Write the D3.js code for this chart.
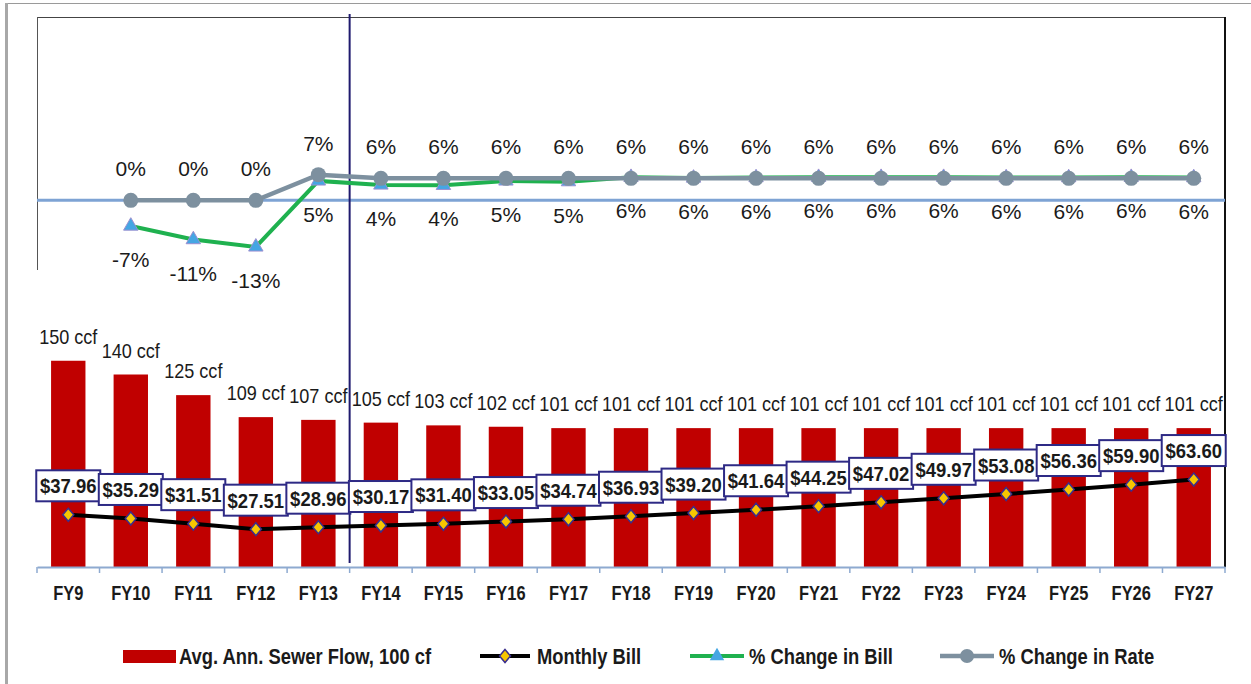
<!DOCTYPE html>
<html>
<head>
<meta charset="utf-8">
<script src="https://cdn.jsdelivr.net/npm/d3@7"></script>
<style>
    body { margin: 0; background: #fff; }
    svg text { font-family: "Liberation Sans Narrow", "Arial Narrow", "Liberation Sans", sans-serif; fill: #1a1a1a; }
    svg text.pct { font-family: "Liberation Sans", Arial, sans-serif; font-size: 21px; }
</style>
</head>
<body>
<svg id="chart" width="1251" height="684"></svg>
<script>
// data
var years = ["FY9", "FY10", "FY11", "FY12", "FY13", "FY14", "FY15", "FY16", "FY17", "FY18",
    "FY19", "FY20", "FY21", "FY22", "FY23", "FY24", "FY25", "FY26", "FY27"];
var sewerFlow = [150, 140, 125, 109, 107, 105, 103, 102, 101, 101, 101, 101, 101, 101, 101, 101, 101, 101, 101];
var monthlyBill = [37.96, 35.29, 31.51, 27.51, 28.96, 30.17, 31.40, 33.05, 34.74, 36.93,
    39.20, 41.64, 44.25, 47.02, 49.97, 53.08, 56.36, 59.90, 63.60];
var billChange = [null, -7.0, -10.7, -12.7, 5.3, 4.2, 4.1, 5.3, 5.1, 6.3, 6.1, 6.2, 6.3, 6.3, 6.3, 6.2, 6.2, 6.3, 6.2];
var rateChange = [null, 0, 0, 0, 7, 6, 6, 6, 6, 6, 6, 6, 6, 6, 6, 6, 6, 6, 6];
var legendNames = ["Avg. Ann. Sewer Flow, 100 cf", "Monthly Bill", "% Change in Bill", "% Change in Rate"];

var plotLeft = 37, plotRight = 1225, plotTop = 17, plotBottom = 567;

var svg = d3.select("#chart");

// no narrow font installed: squeeze the glyphs instead
function condense(sel, k) {
    sel.each(function() {
        var w = this.getComputedTextLength();
        d3.select(this).attr("textLength", w * k).attr("lengthAdjust", "spacingAndGlyphs");
    });
}

// scales
var x = d3.scaleBand().domain(years).range([plotLeft, plotRight]).paddingInner(0.45).paddingOuter(0.225);
var xa = d3.scaleBand().domain(years).range([plotLeft, plotRight]);
var yL = d3.scaleLinear().domain([0, 400]).range([plotBottom, plotTop]);
var yR = d3.scaleLinear().domain([-100, 50]).range([plotBottom, plotTop]);
function cx(d) { return x(d) + x.bandwidth() / 2; }

// frame
svg.append("line").attr("x1", 5).attr("x2", 1251).attr("y1", 3.5).attr("y2", 3.5)
    .attr("stroke", "#9a9a9a").attr("stroke-width", 1);
svg.append("line").attr("x1", 6.5).attr("x2", 6.5).attr("y1", 3).attr("y2", 684)
    .attr("stroke", "#a8a8a8").attr("stroke-width", 3);

// plot area border (partial, as in the original)
svg.append("line").attr("x1", plotLeft).attr("x2", plotRight).attr("y1", plotTop + 0.5).attr("y2", plotTop + 0.5)
    .attr("stroke", "#444").attr("stroke-width", 1);
svg.append("line").attr("x1", plotLeft + 0.5).attr("x2", plotLeft + 0.5).attr("y1", plotTop).attr("y2", 270)
    .attr("stroke", "#555").attr("stroke-width", 1);
svg.append("line").attr("x1", plotRight).attr("x2", plotRight).attr("y1", plotTop).attr("y2", plotBottom)
    .attr("stroke", "#111").attr("stroke-width", 2);

// zero line of the % axis
svg.append("line").attr("x1", plotLeft).attr("x2", plotRight).attr("y1", yR(0)).attr("y2", yR(0))
    .attr("stroke", "#7ea3d4").attr("stroke-width", 3);

// bars
svg.selectAll(".bar")
    .data(years)
    .enter().append("rect")
    .attr("class", "bar")
    .attr("x", function(d) { return x(d); })
    .attr("width", x.bandwidth())
    .attr("y", function(d, i) { return yL(sewerFlow[i]); })
    .attr("height", function(d, i) { return yL(0) - yL(sewerFlow[i]); })
    .attr("fill", "#c00000");

svg.selectAll(".barlabel")
    .data(years)
    .enter().append("text")
    .attr("class", "barlabel")
    .attr("x", cx)
    .attr("y", function(d, i) { return yL(sewerFlow[i]) - 17; })
    .attr("text-anchor", "middle")
    .style("font-size", "21px")
    .text(function(d, i) { return sewerFlow[i] + " ccf"; })
    .call(condense, 0.86);

// divider between actual and projected years
var divX = xa("FY14");
svg.append("line").attr("x1", divX).attr("x2", divX).attr("y1", 14).attr("y2", 563)
    .attr("stroke", "#1f1a6e").attr("stroke-width", 2);

// x axis
var axis = svg.append("g")
    .attr("transform", "translate(0," + plotBottom + ")")
    .call(d3.axisBottom(xa).tickSize(0).tickPadding(0));
axis.select(".domain").attr("stroke", "#8eaad0").attr("stroke-width", 2);
axis.selectAll("text")
    .attr("y", 19)
    .attr("dy", "0.71em")
    .style("font-size", "20px")
    .style("font-weight", "bold")
    .style("fill", "#1a1a1a")
    .call(condense, 0.82);
axis.selectAll(".sep")
    .data(years.concat(["end"]))
    .enter().append("line")
    .attr("class", "sep")
    .attr("x1", function(d) { return d == "end" ? plotRight : xa(d); })
    .attr("x2", function(d) { return d == "end" ? plotRight : xa(d); })
    .attr("y1", 0).attr("y2", 6)
    .attr("stroke", "#8eaad0").attr("stroke-width", 1.5);

// monthly bill line
var billLine = d3.line()
    .x(function(d) { return cx(d.year); })
    .y(function(d) { return yL(d.v); });
var billPts = years.map(function(d, i) { return { year: d, v: monthlyBill[i] }; });

svg.append("path")
    .datum(billPts)
    .attr("d", billLine)
    .attr("fill", "none")
    .attr("stroke", "#000")
    .attr("stroke-width", 4);

// % change lines
var pctLine = d3.line()
    .defined(function(d) { return d.v != null; })
    .x(function(d) { return cx(d.year); })
    .y(function(d) { return yR(d.v); });
var billChgPts = years.map(function(d, i) { return { year: d, v: billChange[i] }; });
var rateChgPts = years.map(function(d, i) { return { year: d, v: rateChange[i] }; });

svg.append("path")
    .datum(billChgPts)
    .attr("d", pctLine)
    .attr("fill", "none")
    .attr("stroke", "#1fb14f")
    .attr("stroke-width", 4);

svg.selectAll(".tri")
    .data(billChgPts.filter(function(d) { return d.v != null; }))
    .enter().append("path")
    .attr("class", "tri")
    .attr("transform", function(d) { return "translate(" + cx(d.year) + "," + yR(d.v) + ")"; })
    .attr("d", d3.symbol().type(d3.symbolTriangle).size(90))
    .attr("fill", "#45a6e3")
    .attr("stroke", "#9c8fd0")
    .attr("stroke-width", 1);

svg.append("path")
    .datum(rateChgPts)
    .attr("d", pctLine)
    .attr("fill", "none")
    .attr("stroke", "#7d909f")
    .attr("stroke-width", 4.5);

svg.selectAll(".dot")
    .data(rateChgPts.filter(function(d) { return d.v != null; }))
    .enter().append("circle")
    .attr("class", "dot")
    .attr("cx", function(d) { return cx(d.year); })
    .attr("cy", function(d) { return yR(d.v); })
    .attr("r", 7.5)
    .attr("fill", "#7d909f");

// % labels
svg.selectAll(".ratelabel")
    .data(rateChgPts.filter(function(d) { return d.v != null; }))
    .enter().append("text")
    .attr("class", "pct")
    .attr("x", function(d) { return cx(d.year); })
    .attr("y", function(d) { return yR(d.v) - 24; })
    .attr("text-anchor", "middle")
    .text(function(d) { return Math.round(d.v) + "%"; });

svg.selectAll(".billchglabel")
    .data(billChgPts.filter(function(d) { return d.v != null; }))
    .enter().append("text")
    .attr("class", "pct")
    .attr("x", function(d) { return cx(d.year); })
    .attr("y", function(d) { return yR(d.v) + 41; })
    .attr("text-anchor", "middle")
    .text(function(d) { return Math.round(d.v) + "%"; });

// bill markers
svg.selectAll(".diamond")
    .data(billPts)
    .enter().append("path")
    .attr("class", "diamond")
    .attr("transform", function(d) { return "translate(" + cx(d.year) + "," + yL(d.v) + ")"; })
    .attr("d", "M0,-6.5L5.5,0L0,6.5L-5.5,0Z")
    .attr("fill", "#f7c600")
    .attr("stroke", "#3a2e8c")
    .attr("stroke-width", 1.5);

// bill labels in boxes
var boxes = svg.selectAll(".billlabel")
    .data(billPts)
    .enter().append("g")
    .attr("class", "billlabel")
    .attr("transform", function(d) { return "translate(" + cx(d.year) + "," + (yL(d.v) - 29) + ")"; });

boxes.append("rect")
    .attr("x", -32).attr("y", -15.5)
    .attr("width", 64).attr("height", 31)
    .attr("fill", "#fff")
    .attr("stroke", "#2e2a85")
    .attr("stroke-width", 2);

boxes.append("text")
    .attr("text-anchor", "middle")
    .attr("dy", "0.36em")
    .style("font-size", "21px")
    .style("font-weight", "bold")
    .text(function(d) { return "$" + d.v.toFixed(2); })
    .call(condense, 0.88);

// legend
var legY = 656;
var legend = svg.append("g").attr("class", "legend");

legend.append("rect").attr("x", 123).attr("y", legY - 6).attr("width", 53).attr("height", 13).attr("fill", "#c00000");

legend.append("line").attr("x1", 480).attr("x2", 530).attr("y1", legY).attr("y2", legY)
    .attr("stroke", "#000").attr("stroke-width", 4);
legend.append("path").attr("transform", "translate(505," + legY + ")")
    .attr("d", "M0,-6.5L5.5,0L0,6.5L-5.5,0Z")
    .attr("fill", "#f7c600").attr("stroke", "#3a2e8c").attr("stroke-width", 1.5);

legend.append("line").attr("x1", 690).attr("x2", 744).attr("y1", legY).attr("y2", legY)
    .attr("stroke", "#1fb14f").attr("stroke-width", 4);
legend.append("path").attr("transform", "translate(717," + legY + ")")
    .attr("d", d3.symbol().type(d3.symbolTriangle).size(90))
    .attr("fill", "#45a6e3");

legend.append("line").attr("x1", 940).attr("x2", 994).attr("y1", legY).attr("y2", legY)
    .attr("stroke", "#7d909f").attr("stroke-width", 4.5);
legend.append("circle").attr("cx", 967).attr("cy", legY).attr("r", 7).attr("fill", "#7d909f");

var legendX = [179, 537, 749, 999];
legend.selectAll(".legtext")
    .data(legendNames)
    .enter().append("text")
    .attr("class", "legtext")
    .attr("x", function(d, i) { return legendX[i]; })
    .attr("y", legY)
    .attr("dy", "0.36em")
    .style("font-size", "22px")
    .style("font-weight", "bold")
    .text(function(d) { return d; })
    .call(condense, 0.835);
</script>
</body>
</html>
